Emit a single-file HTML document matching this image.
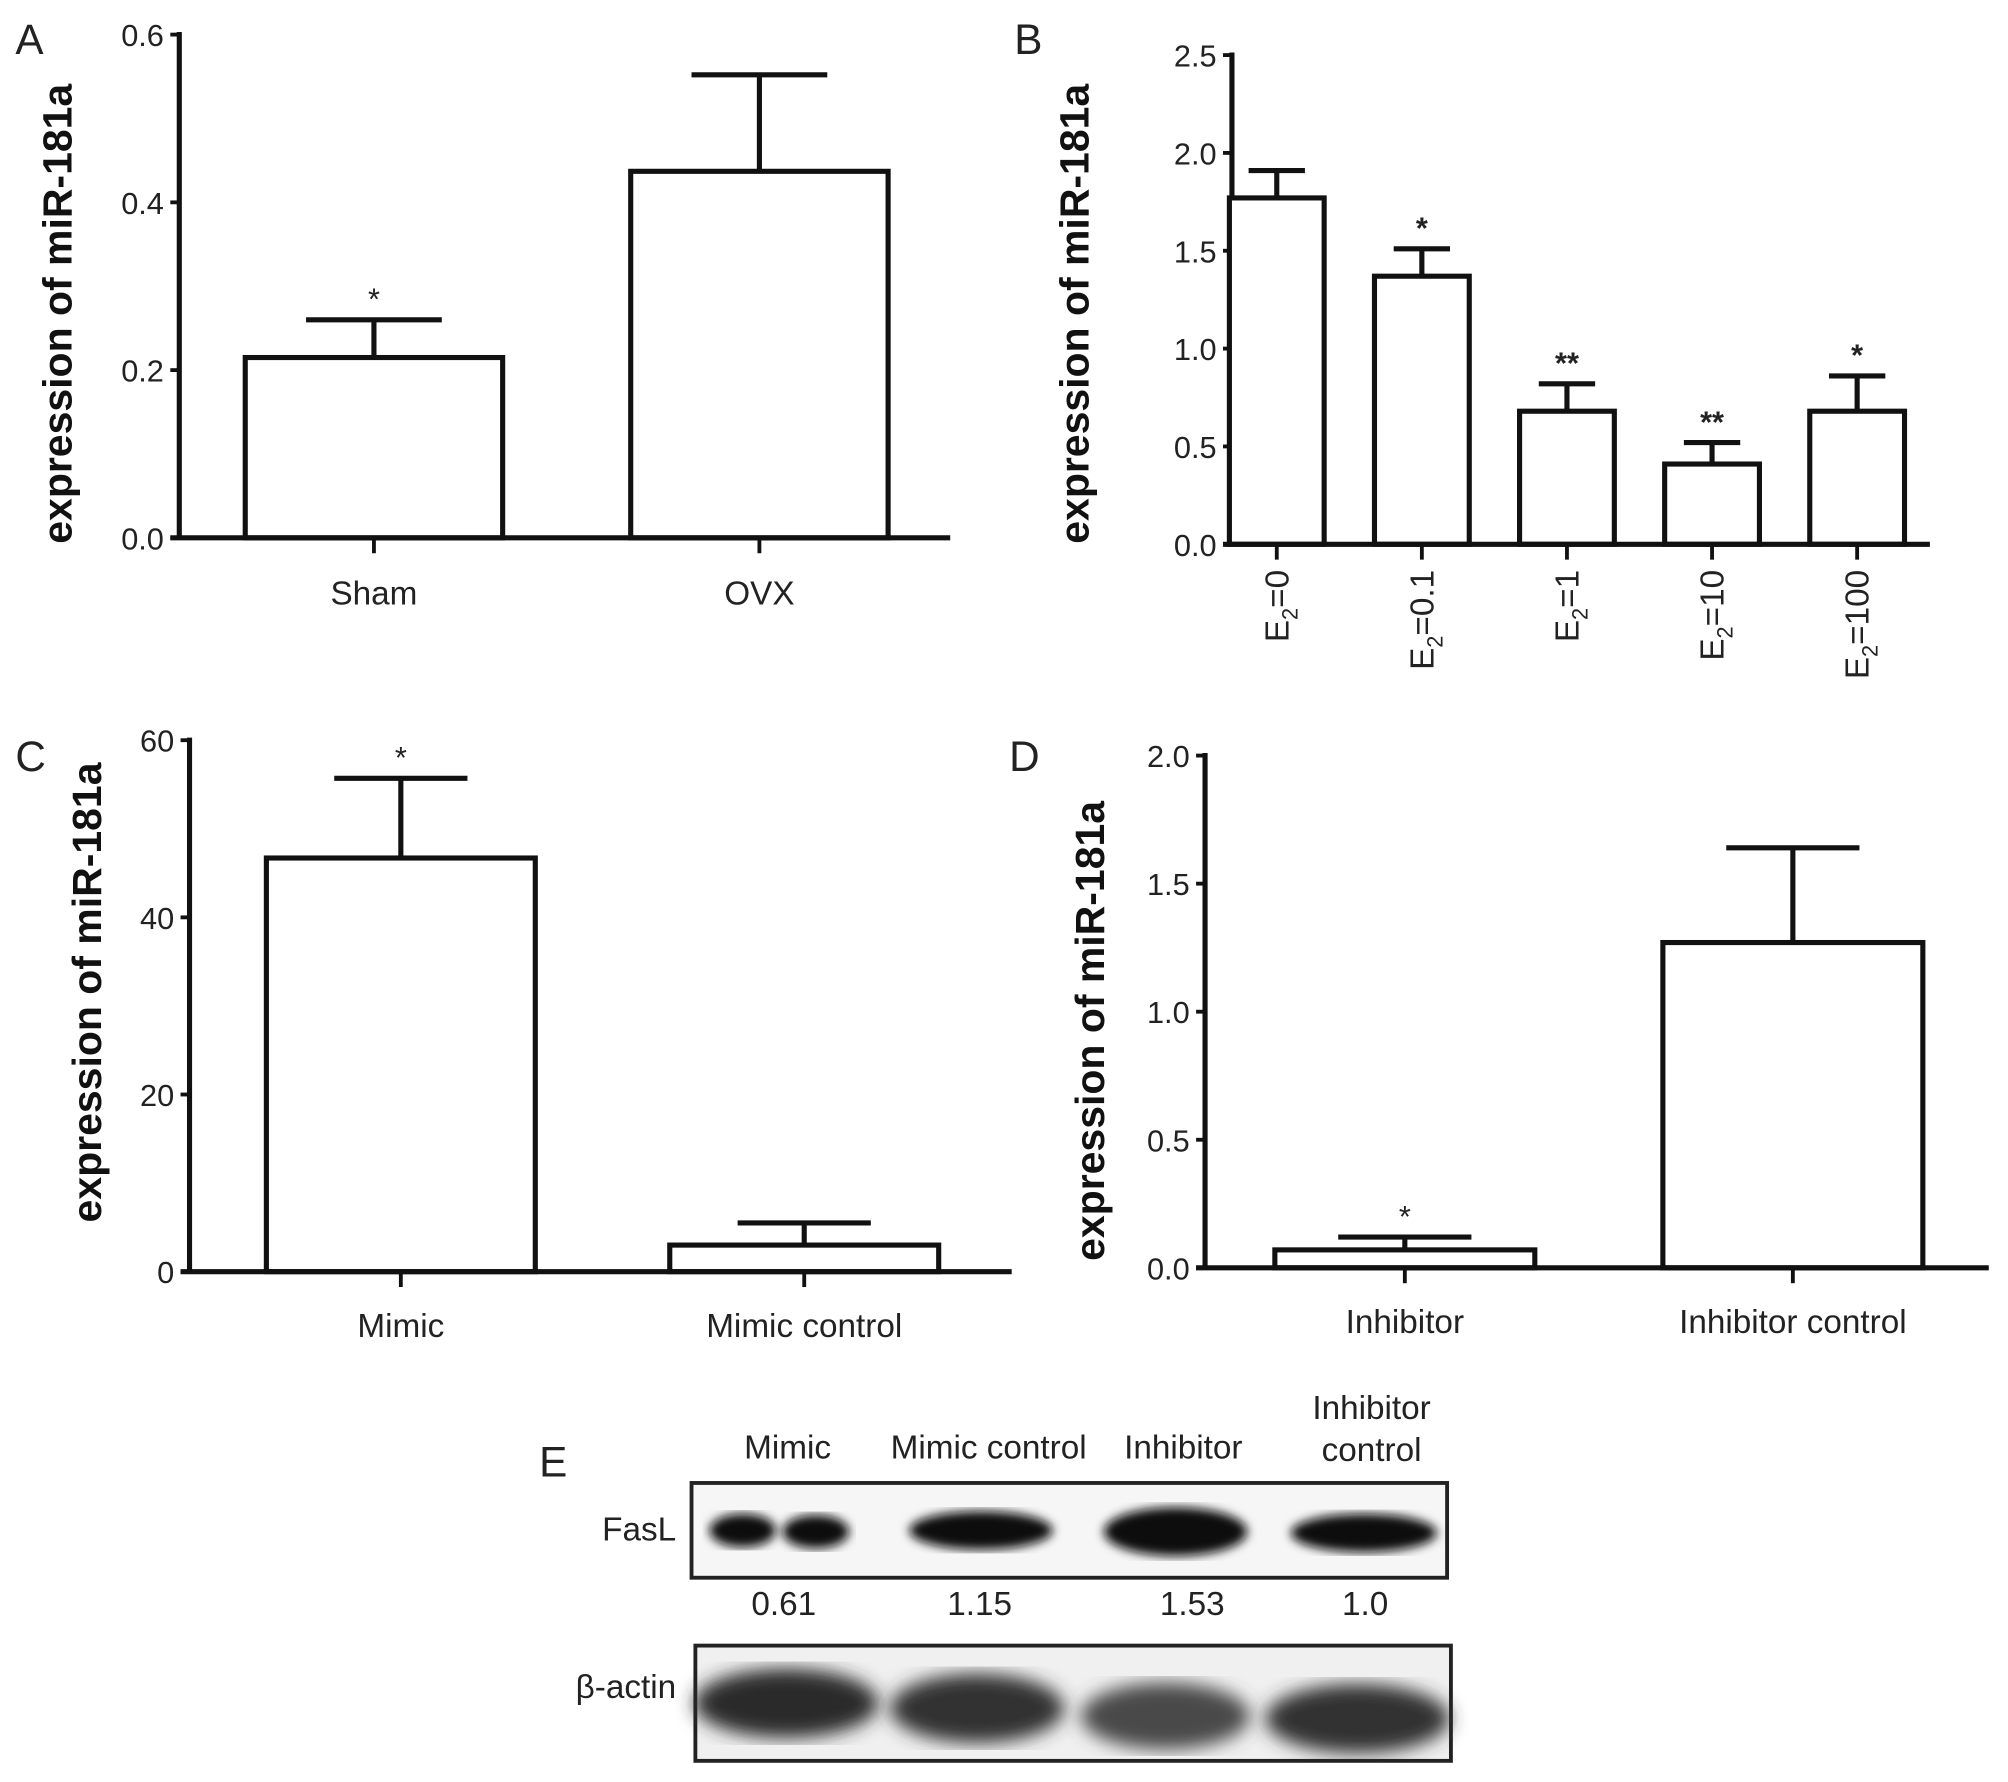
<!DOCTYPE html>
<html><head><meta charset="utf-8"><style>
html,body{margin:0;padding:0;background:#fff;}
svg{display:block;}
text{font-family:"Liberation Sans",sans-serif;fill:#222;}
.tick{font-size:24px;}
.xl{font-size:26px;}
.ttl{font-size:32px;font-weight:bold;fill:#111;}
.pl{font-size:33px;}
</style></head><body>
<svg id="fig" width="2008" height="1782" viewBox="0 0 1568 1391.5" xmlns="http://www.w3.org/2000/svg">
<defs>
<filter id="blur3"><feGaussianBlur stdDeviation="4"/></filter>
<filter id="blur6"><feGaussianBlur stdDeviation="7"/></filter>
</defs>
<g id="root"></g>
</svg>
<script>
// Panel A
const catsA = ["Sham","OVX"];
const valsA = [0.215, 0.437];
const errA = [0.26, 0.552];
const starsA = ["*",""];
const ticksA = ["0.0","0.2","0.4","0.6"];
const tickValsA = [0,0.2,0.4,0.6];
// Panel B
const catsB = ["0","0.1","1","10","100"];
const valsB = [1.77, 1.37, 0.68, 0.41, 0.68];
const errB = [1.91, 1.51, 0.82, 0.52, 0.86];
const starsB = ["","*","**","**","*"];
const ticksB = ["0.0","0.5","1.0","1.5","2.0","2.5"];
const tickValsB = [0,0.5,1,1.5,2,2.5];
// Panel C
const catsC = ["Mimic","Mimic control"];
const valsC = [46.7, 3.0];
const errC = [55.7, 5.5];
const starsC = ["*",""];
const ticksC = ["0","20","40","60"];
const tickValsC = [0,20,40,60];
// Panel D
const catsD = ["Inhibitor","Inhibitor control"];
const valsD = [0.07, 1.27];
const errD = [0.12, 1.64];
const starsD = ["*",""];
const ticksD = ["0.0","0.5","1.0","1.5","2.0"];
const tickValsD = [0,0.5,1,1.5,2];
// Panel E
const laneLabels = ["Mimic","Mimic control","Inhibitor","Inhibitor control"];
const fasLRatios = ["0.61","1.15","1.53","1.0"];

const NS="http://www.w3.org/2000/svg";
const root=document.getElementById('root');
function mk(tag,attrs,parent){const e=document.createElementNS(NS,tag);for(const k in attrs)e.setAttribute(k,attrs[k]);(parent||root).appendChild(e);return e;}
function txt(s,attrs,parent){const e=mk('text',attrs,parent);e.textContent=s;return e;}

function panel(cfg){
  const g=mk('g',{});
  
  
  const y=v=>cfg.y0-(v/cfg.vmax)*(cfg.y0-cfg.ytop);
  const x=i=>cfg.x0+cfg.first+i*cfg.step;
  const sw=4;
  const ya=mk('line',{x1:cfg.ax,y1:cfg.ytop-2,x2:cfg.ax,y2:cfg.y0,stroke:'#111','stroke-width':sw},g);
  
  
  cfg.tickVals.forEach((tv,i)=>{
    mk('line',{x1:cfg.ax-7,y1:y(tv),x2:cfg.ax,y2:y(tv),stroke:'#111','stroke-width':3},g);
    const t=txt(cfg.ticks[i],{x:cfg.ax-12,y:y(tv)+9,'text-anchor':'end',class:'tick'},g);
    
    
  });
  const tt=txt('expression of miR-181a',{x:cfg.tx,y:cfg.ty,'text-anchor':'middle',class:'ttl',transform:`rotate(-90 ${cfg.tx} ${cfg.ty})`},g);
  
  
  cfg.vals.forEach((v,i)=>{
    const cx=x(i), hw=cfg.bw/2;
    const b=mk('rect',{x:cx-hw,y:y(v),width:cfg.bw,height:cfg.y0-y(v),fill:'#fff',stroke:'#111','stroke-width':sw},g);
    
    
    const e=mk('path',{d:`M${cx} ${y(v)} V${y(cfg.err[i])} M${cx-cfg.cap} ${y(cfg.err[i])} H${cx+cfg.cap}`,stroke:'#111','stroke-width':sw,fill:'none'},g);
    
    
    if(cfg.stars[i]){
      const s=txt(cfg.stars[i],{x:cx,y:y(cfg.err[i])-8,'text-anchor':'middle','font-size':cfg.starSize,'font-weight':cfg.starBold?'bold':'normal'},g);
      
      
    }
    mk('line',{x1:cx,y1:cfg.y0,x2:cx,y2:cfg.y0+12,stroke:'#111','stroke-width':3},g);
    if(cfg.rot){
      const lx=cx+9, ly=cfg.y0+20;
      const t=mk('text',{x:lx,y:ly,'text-anchor':'end',class:'xl',transform:`rotate(-90 ${lx} ${ly})`},g);
      
      
      t.appendChild(document.createTextNode('E'));
      const sub=document.createElementNS(NS,'tspan');sub.setAttribute('font-size','17');sub.setAttribute('dy','7');sub.textContent='2';t.appendChild(sub);
      const rest=document.createElementNS(NS,'tspan');rest.setAttribute('dy','-7');rest.textContent='='+cfg.cats[i];t.appendChild(rest);
    } else {
      const t=txt(cfg.cats[i],{x:cx,y:cfg.labY,'text-anchor':'middle',class:'xl'},g);
      
      
    }
  });
  const xa=mk('line',{x1:cfg.ax-7,y1:cfg.y0,x2:cfg.xend,y2:cfg.y0,stroke:'#111','stroke-width':sw},g);
  
  
  const pl=txt(cfg.letter,{x:cfg.lx,y:cfg.ly,class:'pl'},g);
  
  
}

panel({name:'panel-a',letter:'A',lx:12,ly:42,ax:140,x0:140,y0:420,ytop:27,vmax:0.6,first:152,step:301,bw:201,cap:53,
  vals:valsA,err:errA,stars:starsA,cats:catsA,ticks:ticksA,tickVals:tickValsA,xend:742,labY:472,tx:56,ty:245,starSize:24});
panel({name:'panel-b',letter:'B',lx:792,ly:42,ax:962,x0:962,y0:425,ytop:43,vmax:2.5,first:35,step:113.3,bw:74,cap:22,
  vals:valsB,err:errB,stars:starsB,cats:catsB,ticks:ticksB,tickVals:tickValsB,xend:1507,rot:true,tx:850,ty:245,starSize:24,starBold:true});
panel({name:'panel-c',letter:'C',lx:12,ly:602,ax:148,x0:148,y0:993,ytop:578,vmax:60,first:165,step:315,bw:210,cap:52,
  vals:valsC,err:errC,stars:starsC,cats:catsC,ticks:ticksC,tickVals:tickValsC,xend:790,labY:1044,tx:79,ty:775,starSize:24});
panel({name:'panel-d',letter:'D',lx:788,ly:602,ax:941,x0:941,y0:990,ytop:590,vmax:2.0,first:156,step:303,bw:203,cap:52,
  vals:valsD,err:errD,stars:starsD,cats:catsD,ticks:ticksD,tickVals:tickValsD,xend:1553,labY:1041,tx:862,ty:805,starSize:24});

// Panel E - western blot
const ge=mk('g',{});


const el=txt('E',{x:421,y:1153,class:'pl'},ge);


const laneX=[615,772,924,1071];
laneLabels.forEach((l,i)=>{
  let t;
  if(l==='Inhibitor control'){
    t=txt('Inhibitor',{x:laneX[i],y:1108,'text-anchor':'middle',class:'xl'},ge);
    
    
    t=txt('control',{x:laneX[i],y:1141,'text-anchor':'middle',class:'xl'},ge);
  } else t=txt(l,{x:laneX[i],y:1139,'text-anchor':'middle',class:'xl'},ge);
  
  
});
const fb=mk('rect',{x:540,y:1158,width:590,height:74,fill:'#f6f6f6',stroke:'#222','stroke-width':3},ge);


[[580,1195,26,13],[637,1196,26,13],[766,1195,56,15],[918,1196,56,19],[1065,1197,57,15]].forEach(b=>{
  const e=mk('ellipse',{cx:b[0],cy:b[1],rx:b[2],ry:b[3],fill:'#0c0c0c',filter:'url(#blur3)'},ge);
  
  
});
const fl=txt('FasL',{x:528,y:1203,'text-anchor':'end',class:'xl'},ge);


const ratioX=[612,765,931,1066];
fasLRatios.forEach((r,i)=>{
  const t=txt(r,{x:ratioX[i],y:1261,'text-anchor':'middle',class:'xl'},ge);
  
  
});
const ab=mk('rect',{x:543,y:1285,width:590,height:90,fill:'#f0f0f0',stroke:'#222','stroke-width':3},ge);


[[614,1330,72,27,'#2a2a2a'],[763,1334,68,27,'#333'],[910,1340,66,26,'#4a4a4a'],[1060,1342,72,27,'#333']].forEach(b=>{
  const e=mk('ellipse',{cx:b[0],cy:b[1],rx:b[2],ry:b[3],fill:b[4],filter:'url(#blur6)'},ge);
  
  
});
const al=txt('β-actin',{x:528,y:1326,'text-anchor':'end',class:'xl'},ge);


</script>
</body></html>
